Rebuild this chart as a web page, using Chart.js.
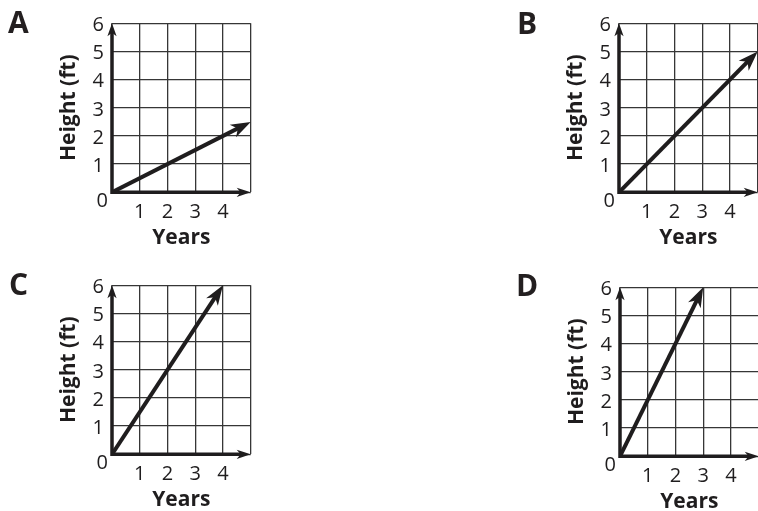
<!DOCTYPE html>
<html>
<head>
<meta charset="utf-8">
<script src="https://cdn.jsdelivr.net/npm/chart.js@4.4.0/dist/chart.umd.min.js"></script>
<style>
  html, body { margin: 0; padding: 0; background: #fff; }
  body { width: 758px; height: 511px; overflow: hidden; position: relative; }
  .panel { position: absolute; width: 270px; height: 262px; }
  .letter { position: absolute; font: bold 30px 'Open Sans', sans-serif; line-height: 30px; color: #231f20; }
</style>
</head>
<body>
<div class="panel" style="left:0px;top:0px"><canvas id="chartA"></canvas></div>
<div class="panel" style="left:507px;top:0px"><canvas id="chartB"></canvas></div>
<div class="panel" style="left:0px;top:261.8px"><canvas id="chartC"></canvas></div>
<div class="panel" style="left:508px;top:263.5px"><canvas id="chartD"></canvas></div>
<div class="letter" style="left:8px;top:6.5px">A</div>
<div class="letter" style="left:517px;top:8px">B</div>
<div class="letter" style="left:9px;top:268.5px">C</div>
<div class="letter" style="left:516px;top:270px">D</div>
<script>
// tick labels shared by all four graphs
const xTickLabels = [1, 2, 3, 4];
const yTickLabels = [1, 2, 3, 4, 5, 6];
const originLabel = "0";

// each graph is a straight line from the origin to the arrow tip
const yearsA = [0, 5];
const heightA = [0, 2.5];
const yearsB = [0, 5];
const heightB = [0, 5];
const yearsC = [0, 4];
const heightC = [0, 6];
const yearsD = [0, 3];
const heightD = [0, 6];

const panels = [
  { id: "chartA", years: yearsA, heights: heightA },
  { id: "chartB", years: yearsB, heights: heightB },
  { id: "chartC", years: yearsC, heights: heightC },
  { id: "chartD", years: yearsD, heights: heightD }
];

const INK = "#1f1d1e";
const GRID = "#363636";
Chart.defaults.font.family = "'Open Sans', sans-serif";

function arrowHead(ctx, tipX, tipY, dx, dy, len, half) {
  const nx = -dy, ny = dx;
  const bx = tipX - dx * len, by = tipY - dy * len;
  ctx.beginPath();
  ctx.moveTo(tipX, tipY);
  ctx.lineTo(bx + nx * half, by + ny * half);
  ctx.lineTo(tipX - dx * len * 0.72, tipY - dy * len * 0.72);
  ctx.lineTo(bx - nx * half, by - ny * half);
  ctx.closePath();
  ctx.fill();
}

function lineTip(chart) {
  const pts = chart.getDatasetMeta(0).data;
  const p0 = pts[0], p1 = pts[pts.length - 1];
  const len = Math.hypot(p1.x - p0.x, p1.y - p0.y);
  return { x: p1.x, y: p1.y, dx: (p1.x - p0.x) / len, dy: (p1.y - p0.y) / len };
}

const arrowPlugin = {
  id: "arrows",
  beforeDatasetsDraw(chart) {
    const { ctx, chartArea: a } = chart;
    ctx.save();
    ctx.strokeStyle = INK;
    ctx.fillStyle = INK;
    ctx.lineWidth = 3.5;
    ctx.lineJoin = "miter";
    ctx.beginPath();
    ctx.moveTo(a.left, a.top + 8);
    ctx.lineTo(a.left, a.bottom);
    ctx.lineTo(a.right - 8, a.bottom);
    ctx.stroke();
    arrowHead(ctx, a.left, a.top, 0, -1, 13, 4.6);
    arrowHead(ctx, a.right, a.bottom, 1, 0, 14, 4.6);
    ctx.font = "20px 'Open Sans'";
    ctx.textAlign = "right";
    ctx.textBaseline = "middle";
    ctx.fillText(originLabel, a.left - 4, a.bottom + 9);
    ctx.restore();

    // keep the blunt end of the data line out from under the arrow tip
    const t = lineTip(chart);
    const nx = -t.dy, ny = t.dx;
    ctx.save();
    ctx.beginPath();
    ctx.rect(0, 0, chart.width, chart.height);
    ctx.moveTo(t.x + t.dx * 3 + nx * 3, t.y + t.dy * 3 + ny * 3);
    ctx.lineTo(t.x - t.dx * 9 + nx * 3, t.y - t.dy * 9 + ny * 3);
    ctx.lineTo(t.x - t.dx * 9 - nx * 3, t.y - t.dy * 9 - ny * 3);
    ctx.lineTo(t.x + t.dx * 3 - nx * 3, t.y + t.dy * 3 - ny * 3);
    ctx.closePath();
    ctx.clip("evenodd");
  },
  afterDatasetsDraw(chart) {
    const { ctx } = chart;
    ctx.restore();
    const t = lineTip(chart);
    ctx.save();
    ctx.fillStyle = INK;
    arrowHead(ctx, t.x, t.y, t.dx, t.dy, 20, 7);
    ctx.restore();
  }
};

function makeChart(p) {
  return new Chart(document.getElementById(p.id), {
    type: "scatter",
    data: {
      datasets: [{
        data: p.years.map((x, i) => ({ x: x, y: p.heights[i] })),
        showLine: true,
        borderColor: INK,
        borderWidth: 4,
        pointRadius: 0,
        pointHoverRadius: 0
      }]
    },
    options: {
      responsive: true,
      maintainAspectRatio: false,
      animation: false,
      layout: { padding: { left: 0, top: 23.3, right: 19.3, bottom: 0 } },
      plugins: { legend: { display: false }, tooltip: { enabled: false } },
      scales: {
        x: {
          type: "linear",
          min: 0,
          max: 5,
          afterFit: s => { s.height = 69.7; },
          grid: { color: GRID, lineWidth: 1.3, drawTicks: false },
          border: { display: false },
          ticks: {
            stepSize: 1,
            autoSkip: false,
            maxRotation: 0,
            padding: 8,
            color: INK,
            font: { size: 20 },
            callback: v => xTickLabels.includes(v) ? String(v) : ""
          },
          title: {
            display: true,
            text: "Years",
            color: INK,
            font: { size: 21, weight: "bold" },
            padding: { top: 0, bottom: 11 }
          }
        },
        y: {
          type: "linear",
          min: 0,
          max: 6,
          afterFit: s => { s.width = 112; },
          grid: { color: GRID, lineWidth: 1.3, drawTicks: false },
          border: { display: false },
          ticks: {
            stepSize: 1,
            autoSkip: false,
            padding: 8,
            labelOffset: 2,
            color: INK,
            font: { size: 20 },
            callback: v => yTickLabels.includes(v) ? String(v) : ""
          },
          title: {
            display: true,
            text: "Height (ft)",
            color: INK,
            font: { size: 21, weight: "bold" },
            padding: { top: 56, bottom: 0 }
          }
        }
      }
    },
    plugins: [arrowPlugin]
  });
}

panels.forEach(makeChart);
</script>
</body>
</html>
